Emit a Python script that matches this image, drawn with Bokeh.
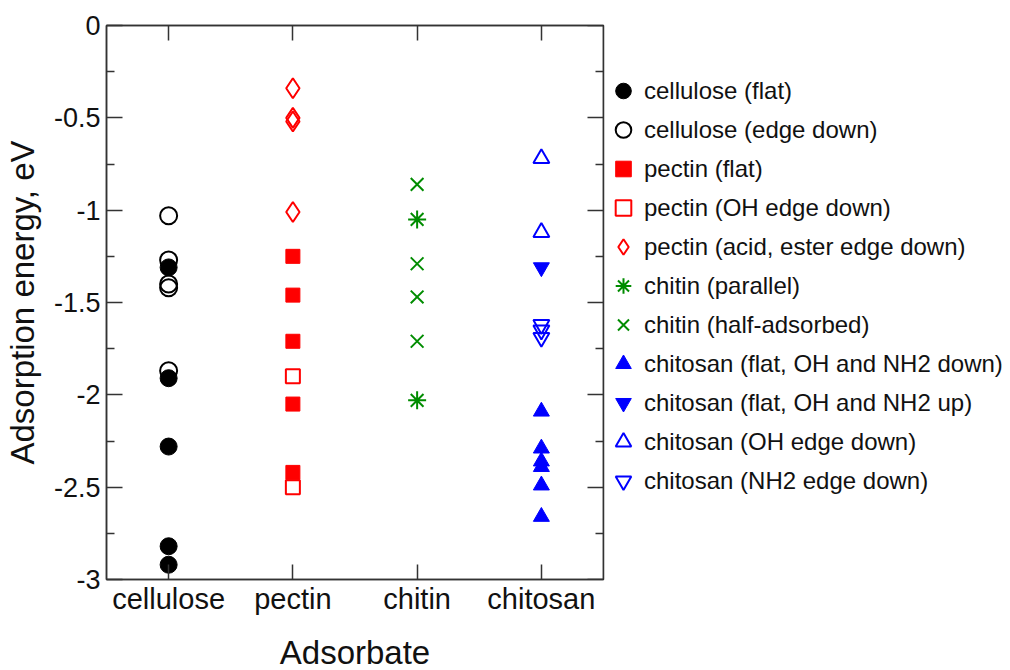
from bokeh.plotting import figure
from bokeh.models import (FactorRange, Range1d, Legend, LegendItem, CategoricalAxis,
                          LinearAxis, FixedTicker, ColumnDataSource)
from bokeh.embed import file_html
from bokeh.resources import INLINE

categories = ["cellulose", "pectin", "chitin", "chitosan"]

y_ticks = [0, -0.5, -1, -1.5, -2, -2.5, -3]
y_tick_labels = ["0", "-0.5", "-1", "-1.5", "-2", "-2.5", "-3"]
y_minor_ticks = [-0.25, -0.75, -1.25, -1.75, -2.25, -2.75]

cellulose_flat = [-1.31, -1.91, -2.28, -2.82, -2.92]
cellulose_edge = [-1.03, -1.27, -1.40, -1.42, -1.87]
pectin_flat = [-1.25, -1.46, -1.71, -2.05, -2.42]
pectin_oh_edge = [-1.90, -2.50]
pectin_acid_edge = [-0.34, -0.50, -0.52, -1.01]
chitin_parallel = [-1.05, -2.03]
chitin_half = [-0.86, -1.29, -1.47, -1.71]
chitosan_flat_down = [-2.09, -2.29, -2.36, -2.39, -2.49, -2.66]
chitosan_flat_up = [-1.31]
chitosan_oh_edge = [-0.72, -1.12]
chitosan_nh2_edge = [-1.62, -1.65, -1.69]

RED = "#FF0000"
GREEN = "#008C00"
BLUE = "#0000FF"
BLACK = "#000000"
FONT = "Liberation Sans"
AX = "#333333"

series = [
    ("cellulose (flat)", "cellulose", cellulose_flat, "circle", BLACK, True, 17),
    ("cellulose (edge down)", "cellulose", cellulose_edge, "circle", BLACK, False, 17),
    ("pectin (flat)", "pectin", pectin_flat, "square", RED, True, 14),
    ("pectin (OH edge down)", "pectin", pectin_oh_edge, "square", RED, False, 14),
    ("pectin (acid, ester edge down)", "pectin", pectin_acid_edge, "diamond", RED, False, 20),
    ("chitin (parallel)", "chitin", chitin_parallel, "asterisk", GREEN, True, 18),
    ("chitin (half-adsorbed)", "chitin", chitin_half, "x", GREEN, True, 18),
    ("chitosan (flat, OH and NH2 down)", "chitosan", chitosan_flat_down, "triangle", BLUE, True, 16),
    ("chitosan (flat, OH and NH2 up)", "chitosan", chitosan_flat_up, "inverted_triangle", BLUE, True, 16),
    ("chitosan (OH edge down)", "chitosan", chitosan_oh_edge, "triangle", BLUE, False, 16),
    ("chitosan (NH2 edge down)", "chitosan", chitosan_nh2_edge, "inverted_triangle", BLUE, False, 16),
]

p = figure(x_range=FactorRange(factors=categories), y_range=Range1d(-3, 0),
           frame_width=497, frame_height=554,
           min_border_left=99, min_border_top=25, min_border_right=0, min_border_bottom=84,
           output_backend="svg", toolbar_location=None,
           x_axis_label="Adsorbate", y_axis_label="Adsorption energy, eV")
p.xgrid.visible = False
p.ygrid.visible = False
p.outline_line_color = AX
p.outline_line_width = 1.5
p.background_fill_color = "white"
p.border_fill_color = "white"

items = []
for label, cat, vals, marker, color, filled, size in series:
    src = ColumnDataSource(dict(x=[cat] * len(vals), y=vals))
    lw = 2 if (not filled or marker in ("asterisk", "x")) else 1
    r = p.scatter("x", "y", source=src, marker=marker, size=size,
                  line_color=color, line_width=lw,
                  fill_color=color if filled else None)
    items.append(LegendItem(label=label, renderers=[r]))

yticker = FixedTicker(ticks=y_ticks, minor_ticks=y_minor_ticks)
overrides = dict(zip(y_ticks, y_tick_labels))


def style_common(ax):
    ax.major_tick_out = 0
    ax.minor_tick_out = 0
    ax.axis_line_color = AX
    ax.axis_line_width = 1.5
    ax.major_tick_line_color = AX
    ax.major_tick_line_width = 1.5
    ax.minor_tick_line_color = AX
    ax.minor_tick_line_width = 1.5


def hide_labels(ax):
    ax.major_label_text_font_size = "1px"
    ax.major_label_text_color = None
    ax.major_label_standoff = 0


def style_y(ax, labels=True):
    style_common(ax)
    ax.ticker = yticker
    ax.major_tick_in = 16
    ax.minor_tick_in = 8
    if labels:
        ax.major_label_overrides = overrides
        ax.major_label_text_font = FONT
        ax.major_label_text_font_size = "27px"
        ax.major_label_text_color = "#111111"
        ax.major_label_standoff = 6
    else:
        hide_labels(ax)


def style_x(ax, labels=True):
    style_common(ax)
    ax.major_tick_in = 15
    ax.minor_tick_in = 0
    if labels:
        ax.major_label_text_font = FONT
        ax.major_label_text_font_size = "29px"
        ax.major_label_text_color = "#111111"
        ax.major_label_standoff = 3
    else:
        hide_labels(ax)


style_y(p.yaxis[0])
p.yaxis[0].axis_label_text_font = FONT
p.yaxis[0].axis_label_text_font_size = "33px"
p.yaxis[0].axis_label_text_font_style = "normal"
p.yaxis[0].axis_label_text_color = "#111111"
p.yaxis[0].axis_label_standoff = 10

style_x(p.xaxis[0])
p.xaxis[0].axis_label_text_font = FONT
p.xaxis[0].axis_label_text_font_size = "33px"
p.xaxis[0].axis_label_text_font_style = "normal"
p.xaxis[0].axis_label_text_color = "#111111"
p.xaxis[0].axis_label_standoff = 16

top_ax = CategoricalAxis()
style_x(top_ax, labels=False)
p.add_layout(top_ax, "above")

legend = Legend(items=items, location=(0, 79),
                glyph_width=40, glyph_height=39, label_height=39, spacing=0,
                label_standoff=1, padding=0, margin=0,
                label_text_font=FONT, label_text_font_size="24px",
                label_text_color="#111111",
                border_line_color=None, background_fill_alpha=0)
p.add_layout(legend, "right")

# mirror ticks on the right edge of the frame
right_ax = LinearAxis(fixed_location=len(categories))
style_y(right_ax, labels=False)
p.add_layout(right_ax, "right")

open("out.html", "w").write(file_html(p, INLINE))
